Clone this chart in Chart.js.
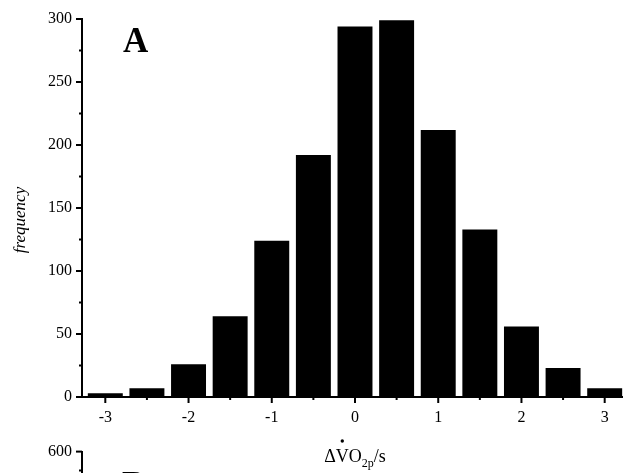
<!DOCTYPE html>
<html><head><meta charset="utf-8">
<script src="https://cdn.jsdelivr.net/npm/chart.js@4.4.1/dist/chart.umd.min.js"></script>
<style>
html,body{margin:0;padding:0;background:#fff;overflow:hidden;width:623px;height:473px;}
#c1{position:absolute;left:0;top:0;}
#c2{position:absolute;left:0;top:440px;}
</style></head><body>
<canvas id="c1" width="623" height="473"></canvas>
<canvas id="c2" width="623" height="250"></canvas>
<script>
// ---- data ----
const binCenters = [-3, -2.5, -2, -1.5, -1, -0.5, 0, 0.5, 1, 1.5, 2, 2.5, 3];
const frequency  = [3, 7, 26, 64, 124, 192, 294, 299, 212, 133, 56, 23, 7];
const xTickLabels = ['-3', '-2', '-1', '0', '1', '2', '3'];
const xMinorTicks = [-2.5, -1.5, -0.5, 0.5, 1.5, 2.5];
const yTickLabels = ['0', '50', '100', '150', '200', '250', '300'];
const yMinorTicks = [25, 75, 125, 175, 225, 275];
const panelALetter = 'A';
const yTitle = 'frequency';
// panel B (only the top of its axis is visible)
const panelBYTickLabels = ['0', '100', '200', '300', '400', '500', '600'];
const panelBYMinorTicks = [50, 150, 250, 350, 450, 550];
const panelBLetter = 'B';
const panelBValues = [];

const SERIF = "'Liberation Serif', 'Times New Roman', serif";

function line(ctx, x1, y1, x2, y2) {
  ctx.beginPath(); ctx.moveTo(x1, y1); ctx.lineTo(x2, y2); ctx.stroke();
}

const tickMarks = {
  id: 'tickMarks',
  afterDraw(chart, args, o) {
    const ctx = chart.ctx, ca = chart.chartArea;
    ctx.save();
    ctx.strokeStyle = '#000'; ctx.lineWidth = 2;
    const ys = chart.scales.y;
    ys.ticks.forEach(t => { const p = ys.getPixelForValue(t.value); line(ctx, ca.left - 6, p, ca.left, p); });
    (o.yMinor || []).forEach(v => { const p = ys.getPixelForValue(v); line(ctx, ca.left - 3, p, ca.left, p); });
    const xs = chart.scales.x;
    if (o.drawX) {
      xs.ticks.forEach(t => { const p = xs.getPixelForValue(t.value); line(ctx, p, ca.bottom, p, ca.bottom + 6); });
      (o.xMinor || []).forEach(v => { const p = xs.getPixelForValue(v); line(ctx, p, ca.bottom, p, ca.bottom + 3); });
    }
    ctx.restore();
  }
};

const textDeco = {
  id: 'textDeco',
  afterDraw(chart, args, o) {
    const ctx = chart.ctx;
    ctx.save();
    ctx.fillStyle = '#000';
    if (o.letter) {
      ctx.font = 'bold 35px ' + SERIF;
      ctx.textAlign = 'left'; ctx.textBaseline = 'alphabetic';
      ctx.fillText(o.letter, o.letterX, o.letterY);
    }
    if (o.yTitle) {
      ctx.save();
      ctx.translate(21, 220); ctx.rotate(-Math.PI / 2);
      ctx.font = 'italic 17px ' + SERIF;
      ctx.textAlign = 'center'; ctx.textBaseline = 'middle';
      ctx.fillText(o.yTitle, 0, 0);
      ctx.restore();
    }
    if (o.xTitle) {
      const main = '18px ' + SERIF, sub = '12px ' + SERIF;
      const parts = [['\u0394', main, 0], ['V', main, 0], ['O', main, 0], ['2p', sub, 5], ['/s', main, 0]];
      let w = 0;
      parts.forEach(p => { ctx.font = p[1]; w += ctx.measureText(p[0]).width; });
      let x = 355 - w / 2; const base = 462;
      ctx.textAlign = 'left'; ctx.textBaseline = 'alphabetic';
      parts.forEach(p => {
        ctx.font = p[1];
        const pw = ctx.measureText(p[0]).width;
        ctx.fillText(p[0], x, base + p[2]);
        if (p[0] === 'V') { ctx.beginPath(); ctx.arc(x + pw / 2, base - 21, 1.7, 0, Math.PI * 2); ctx.fill(); }
        x += pw;
      });
    }
    ctx.restore();
  }
};

const tickFont = { family: SERIF, size: 16 };

new Chart(document.getElementById('c1'), {
  type: 'bar',
  data: {
    datasets: [{
      data: binCenters.map((c, i) => ({ x: c, y: frequency[i] })),
      backgroundColor: '#000', borderWidth: 0,
      barPercentage: 0.84, categoryPercentage: 1
    }]
  },
  options: {
    responsive: false, animation: false,
    layout: { padding: { top: 19, right: 0, left: 0, bottom: 0 } },
    plugins: {
      legend: { display: false }, tooltip: { enabled: false },
      tickMarks: { drawX: true, xMinor: xMinorTicks, yMinor: yMinorTicks },
      textDeco: { letter: panelALetter, letterX: 123, letterY: 52, yTitle: yTitle, xTitle: true }
    },
    scales: {
      x: {
        type: 'linear', min: -3.28, max: 3.22, offset: false,
        grid: { display: false, offset: false },
        border: { display: true, color: '#000', width: 2 },
        ticks: {
          stepSize: 1, includeBounds: false, padding: 3, color: '#000', font: tickFont, maxRotation: 0,
          callback: v => { const s = String(Math.round(v)); return xTickLabels.includes(s) && Math.abs(v - Math.round(v)) < 1e-6 ? s : ''; }
        },
        afterFit: s => { s.height = 76; }
      },
      y: {
        min: 0, max: 300,
        grid: { display: false },
        border: { display: true, color: '#000', width: 2 },
        ticks: {
          stepSize: 50, padding: 2, color: '#000', font: tickFont,
          callback: v => { const s = String(v); return yTickLabels.includes(s) ? s : ''; }
        },
        afterFit: s => { s.width = 82; }
      }
    }
  },
  plugins: [tickMarks, textDeco]
});

new Chart(document.getElementById('c2'), {
  type: 'bar',
  data: { datasets: [{ data: panelBValues, backgroundColor: '#000' }] },
  options: {
    responsive: false, animation: false,
    layout: { padding: { top: 2, right: 0, left: 0, bottom: 0 } },
    plugins: {
      legend: { display: false }, tooltip: { enabled: false },
      tickMarks: { drawX: false, yMinor: panelBYMinorTicks },
      textDeco: { letter: panelBLetter, letterX: 122, letterY: 56 }
    },
    scales: {
      x: { type: 'linear', min: -3.28, max: 3.22, offset: false, display: false },
      y: {
        min: 0, max: 600,
        grid: { display: false },
        border: { display: true, color: '#000', width: 2 },
        ticks: {
          stepSize: 100, padding: 2, color: '#000', font: tickFont,
          callback: v => { const s = String(v); return panelBYTickLabels.includes(s) ? s : ''; }
        },
        afterFit: s => { s.width = 82; }
      }
    }
  },
  plugins: [tickMarks, textDeco]
});
</script>
</body></html>
